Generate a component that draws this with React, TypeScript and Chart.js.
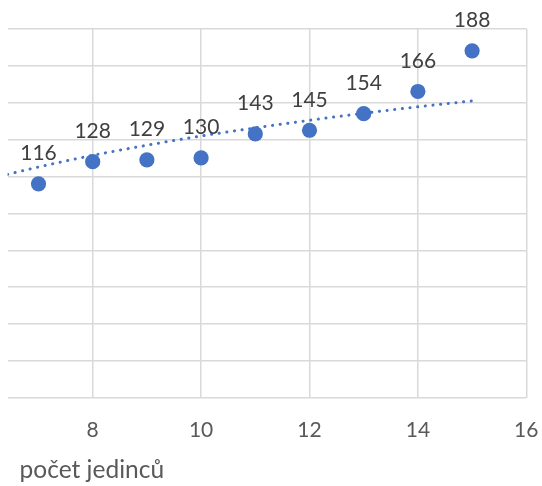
import React, { useEffect, useRef } from "react";
import { Chart, registerables } from "chart.js";

Chart.register(...registerables);

const xValues = [7, 8, 9, 10, 11, 12, 13, 14, 15];
const yValues = [116, 128, 129, 130, 143, 145, 154, 166, 188];
const trendX = [6.43, 7, 8, 9, 10, 11, 12, 13, 14, 15];
const trendY = [121.1, 125.1, 131.4, 136.9, 141.9, 146.3, 150.4, 154.2, 157.7, 160.9];
const xAxisTitle = "počet jedinců";

const FONT = "Lato, 'Open Sans', sans-serif";

const labelPlugin = {
  id: "pointLabels",
  afterDatasetsDraw(chart: any) {
    const ctx = chart.ctx;
    const meta = chart.getDatasetMeta(0);
    ctx.save();
    ctx.font = `21px ${FONT}`;
    ctx.fillStyle = "#404040";
    ctx.textAlign = "center";
    ctx.textBaseline = "alphabetic";
    meta.data.forEach((el: any, i: number) => {
      ctx.fillText(String(yValues[i]), el.x, el.y - 23.5);
    });
    ctx.restore();
  },
};

const axisTitlePlugin = {
  id: "axisTitleText",
  afterDraw(chart: any) {
    const ctx = chart.ctx;
    ctx.save();
    ctx.font = `24.5px ${FONT}`;
    ctx.fillStyle = "#595959";
    ctx.textAlign = "left";
    ctx.textBaseline = "alphabetic";
    ctx.fillText(xAxisTitle, chart.chartArea.left + 12, chart.chartArea.bottom + 80.3);
    ctx.restore();
  },
};

export default function App() {
  const ref = useRef<HTMLCanvasElement | null>(null);
  useEffect(() => {
    if (!ref.current) return;
    const chart = new Chart(ref.current, {
      type: "scatter",
      data: {
        datasets: [
          {
            label: "data",
            data: xValues.map((x, i) => ({ x, y: yValues[i] })),
            backgroundColor: "#4472C4",
            borderColor: "#4472C4",
            pointRadius: 7.6,
            pointBorderWidth: 0,
            order: 0,
          },
          {
            label: "trend",
            type: "line",
            data: trendX.map((x, i) => ({ x, y: trendY[i] })),
            borderColor: "#4472C4",
            borderWidth: 3,
            borderCapStyle: "round",
            borderDash: [0.1, 7.6],
            pointRadius: 0,
            fill: false,
            cubicInterpolationMode: "monotone",
            order: 1,
          } as any,
        ],
      },
      options: {
        animation: false,
        responsive: false,
        maintainAspectRatio: false,
        devicePixelRatio: 1,
        layout: { padding: { left: 6.7, right: 15.7, top: 28.7, bottom: 42.8 } },
        plugins: { legend: { display: false }, tooltip: { enabled: false } },
        scales: {
          x: {
            type: "linear",
            min: 6.43,
            max: 16,
            afterBuildTicks: (scale: any) => {
              scale.ticks = scale.ticks.filter((t: any) => Math.abs(t.value % 2) < 1e-9);
            },
            ticks: {
              stepSize: 2,
              color: "#595959",
              font: { family: FONT, size: 21 },
              padding: 0,
              maxRotation: 0,
            },
            grid: {
              color: "#d9d9d9",
              lineWidth: 1.5,
              drawTicks: true,
              tickLength: 20,
              tickColor: "rgba(0,0,0,0)",
            },
            border: { display: false },
          },
          y: {
            min: 0,
            max: 200,
            ticks: { stepSize: 20, display: false },
            grid: { color: "#d9d9d9", lineWidth: 1.5, drawTicks: false },
            border: { display: false },
          },
        },
      },
      plugins: [labelPlugin, axisTitlePlugin],
    });
    return () => chart.destroy();
  }, []);
  return (
    <div style={{ position: "absolute", left: 0, top: 0, width: 542, height: 486 }}>
      <canvas ref={ref} width={542} height={486} style={{ display: "block", width: 542, height: 486 }} />
    </div>
  );
}
